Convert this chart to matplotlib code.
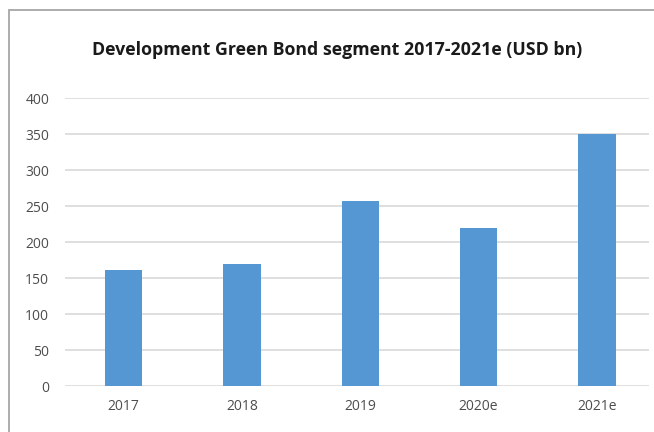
import matplotlib.pyplot as plt
from matplotlib.patches import Rectangle

years = ['2017', '2018', '2019', '2020e', '2021e']
volumes = [161, 170, 257, 219, 350]
y_ticks = [0, 50, 100, 150, 200, 250, 300, 350, 400]

W, H = 654, 432
fig = plt.figure(figsize=(W / 100, H / 100), dpi=100)
plt.rcParams['font.family'] = ['Open Sans', 'DejaVu Sans']

# grey frame round the chart area
fig.patches.append(Rectangle((8.5 / W, -0.1), 1.2, 1 - 10.5 / H + 0.1,
                             transform=fig.transFigure, fill=False,
                             edgecolor='#a6a6a6', linewidth=1.3))

ax = fig.add_axes([64.5 / W, 1 - 386 / H, (649 - 64.5) / W, 288 / H])
x = range(len(years))
ax.bar(x, volumes, width=0.315, color='#5597d3', zorder=3)

ax.set_xlim(-0.5, 4.44)
ax.set_ylim(0, 400)
ax.set_yticks(y_ticks)
ax.set_xticks(list(x))
ax.set_xticklabels(years)
ax.grid(axis='y', color='#d9d9d9', linewidth=1.2, zorder=0)
for s in ax.spines.values():
    s.set_visible(False)
ax.tick_params(length=0, labelsize=10, labelcolor='#4d4d4d')
ax.tick_params(axis='y', pad=11)
ax.tick_params(axis='x', pad=9)

fig.text(337 / W, 1 - 50 / H, 'Development Green Bond segment 2017-2021e (USD bn)',
         ha='center', va='center', fontsize=12.8, fontweight='bold', color='#1a1a1a')

fig.savefig('out.png', dpi=100)
